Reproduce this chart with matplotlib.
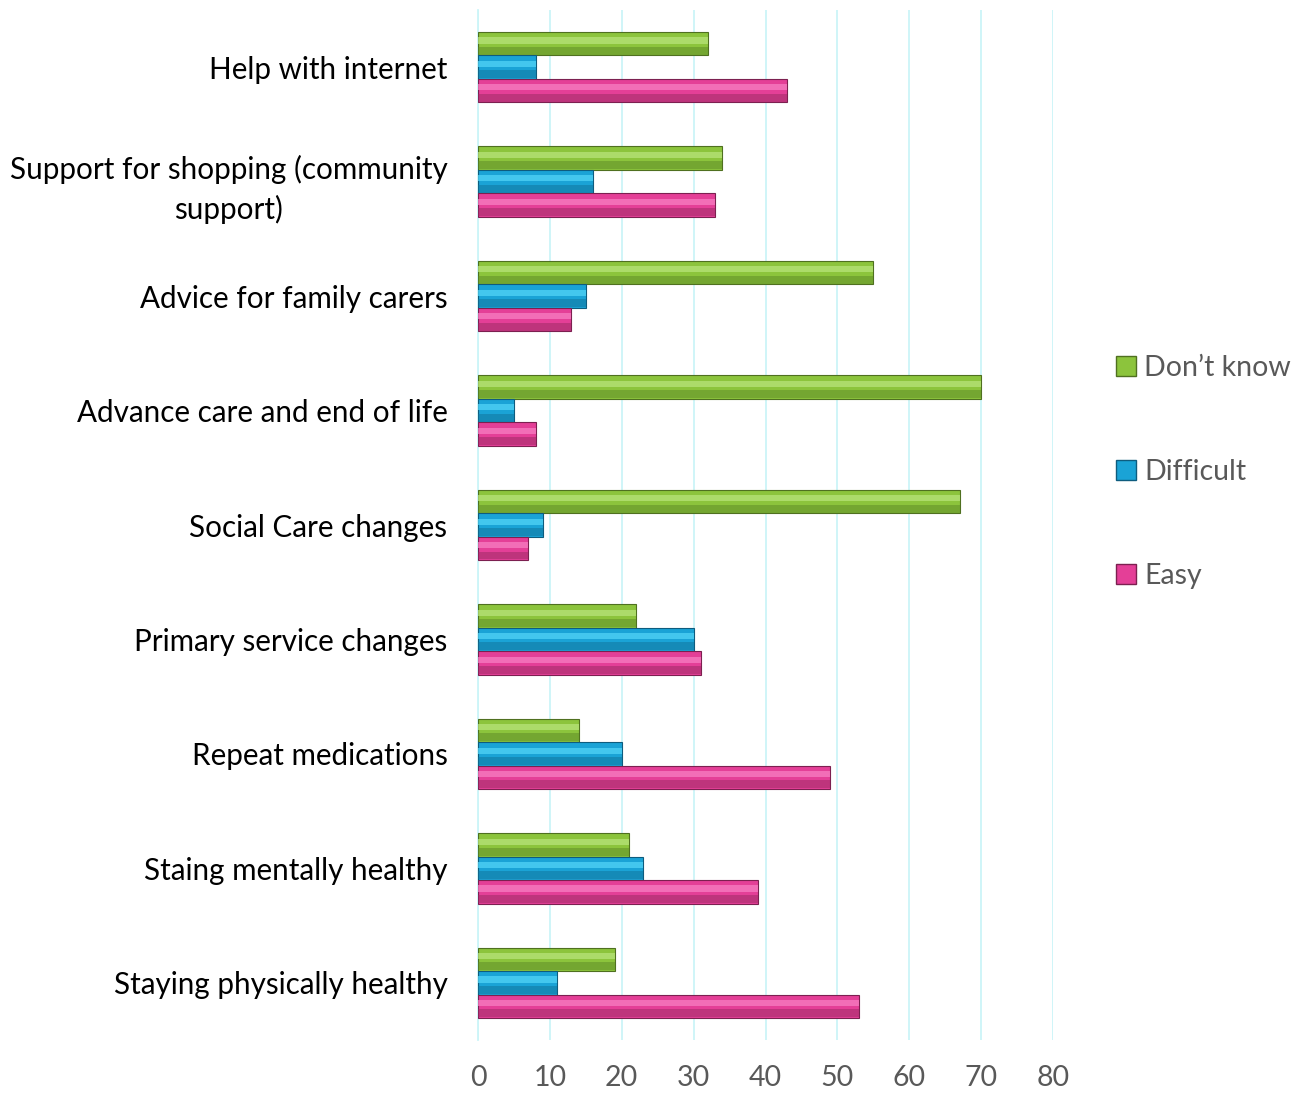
import matplotlib
matplotlib.use("Agg")
import matplotlib.pyplot as plt
import numpy as np
from matplotlib.patches import Rectangle

categories = ["Help with internet", "Support for shopping (community\nsupport)",
              "Advice for family carers", "Advance care and end of life",
              "Social Care changes", "Primary service changes",
              "Repeat medications", "Staing mentally healthy",
              "Staying physically healthy"]
dont_know = [32, 34, 55, 70, 67, 22, 14, 21, 19]
difficult = [8, 16, 15, 5, 9, 30, 20, 23, 11]
easy = [43, 33, 13, 8, 7, 31, 49, 39, 53]
series_names = ["Don\u2019t know", "Difficult", "Easy"]
xticks = [0, 10, 20, 30, 40, 50, 60, 70, 80]

plt.rcParams['font.family'] = ['Lato', 'DejaVu Sans']

fig = plt.figure(figsize=(13.01, 10.93), dpi=100)
ax = fig.add_axes([478/1301, 1-1040/1093, (1053-478)/1301, (1040-10)/1093])

styles = {
    "Don\u2019t know": dict(mid="#8cc43c", light="#b8e47a", dark="#5e8a28", edge="#4f7020"),
    "Difficult": dict(mid="#1aa3d6", light="#52d4f7", dark="#12729a", edge="#0e5c7e"),
    "Easy": dict(mid="#e43f97", light="#f77ec2", dark="#9a2b62", edge="#7c2050"),
}

y = np.arange(len(categories))
h = 0.205
offsets = [-h, 0, h]
data = [dont_know, difficult, easy]
for name, vals, off in zip(series_names, data, offsets):
    st = styles[name]
    yy = y + off
    ax.barh(yy, vals, height=h, color=st["mid"], edgecolor=st["edge"], linewidth=0.8, zorder=3)
    ax.barh(yy + h*0.30, vals, height=h*0.34, color=st["dark"], linewidth=0, zorder=4, alpha=0.5)
    ax.barh(yy - h*0.14, vals, height=h*0.26, color=st["light"], linewidth=0, zorder=4, alpha=0.75)

ax.set_xlim(0, 80)
ax.set_ylim(len(categories)-0.5, -0.5)
ax.set_xticks(xticks)
ax.set_xticklabels([str(t) for t in xticks])
ax.grid(axis='x', color="#ccf5f8", linewidth=1.3, zorder=0)
ax.set_axisbelow(True)
for s in ["top", "right", "bottom"]:
    ax.spines[s].set_visible(False)
ax.spines["left"].set_color("#ccf5f8")
ax.spines["left"].set_linewidth(1.3)
ax.tick_params(axis='x', length=0, labelsize=20.5, colors="#595959", pad=18)
ax.tick_params(axis='y', length=0, labelsize=21.3, colors="#000000", pad=22)
ax.set_yticks(y)
ax.set_yticklabels(categories, linespacing=1.45)
for lbl in ax.get_yticklabels():
    lbl.set_multialignment('center')

handles = [Rectangle((0, 0), 1, 1, facecolor=styles[n]["mid"], edgecolor=styles[n]["edge"]) for n in series_names]
leg = fig.legend(handles, series_names, loc='center left', bbox_to_anchor=(1090/1301, 1-472/1093),
                 frameon=False, fontsize=20.5, labelspacing=2.75, handlelength=0.7, handleheight=0.7,
                 handletextpad=0.3, labelcolor="#595959")

fig.savefig("out.png", dpi=100)
